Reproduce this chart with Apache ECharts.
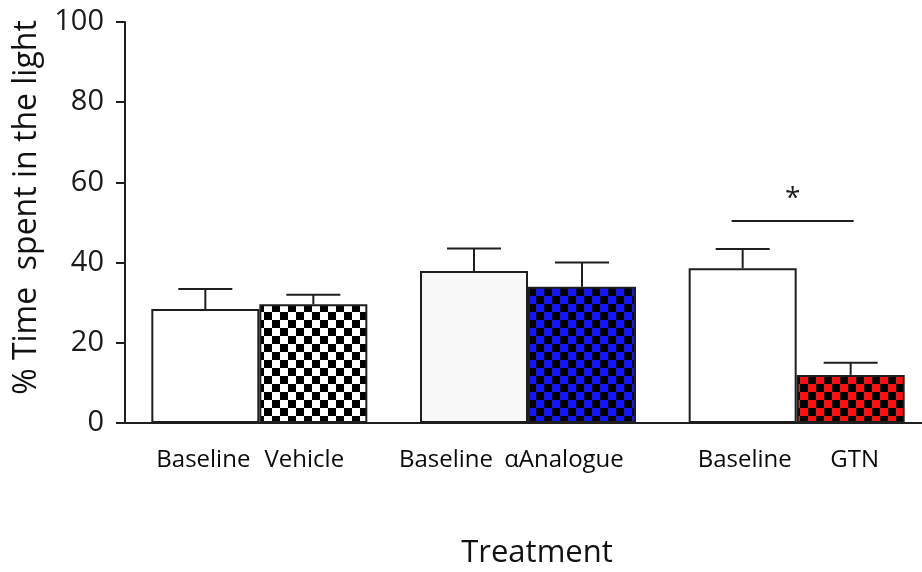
<!DOCTYPE html>
<html>
<head>
<meta charset="utf-8">
<script src="https://cdn.jsdelivr.net/npm/echarts@6/dist/echarts.min.js"></script>
<style>
  html, body { margin: 0; padding: 0; background: #fff; }
  #chart { width: 922px; height: 572px; }
</style>
</head>
<body>
<div id="chart"></div>
<script>
// groups: baseline + treatment pairs
const groups = ["Vehicle", "αAnalogue", "GTN"];
const baselineLabels = ["Baseline", "Baseline", "Baseline"];
const treatmentLabels = ["Vehicle", "αAnalogue", "GTN"];
const baselineMean = [28.4, 37.9, 38.6];
const baselineSem = [5.0, 5.6, 4.8];
const treatmentMean = [29.6, 34.0, 12.0];
const treatmentSem = [2.4, 6.0, 3.0];
const yTicks = [0, 20, 40, 60, 80, 100];

// significance annotation (GTN vs its baseline)
const sigGroup = 2;
const sigLevel = 50.4;
const sigText = "*";

const BAR_W = 108;
const INK = "#1e1e1e";
const FONT = "Open Sans";

// small label nudges to follow the original's placement
const baselineNudge = [-2, -28, 2];
const treatmentNudge = [-9, -18, 4];

function checker(bg) {
  const c = document.createElement("canvas");
  c.width = 16;
  c.height = 16;
  const ctx = c.getContext("2d");
  ctx.fillStyle = bg;
  ctx.fillRect(0, 0, 16, 16);
  ctx.fillStyle = "#000";
  ctx.fillRect(0, 0, 8, 8);
  ctx.fillRect(8, 8, 8, 8);
  return { image: c, repeat: "repeat" };
}
const treatmentFills = [checker("#ffffff"), checker("#1414ff"), checker("#ff1010")];

const chart = echarts.init(document.getElementById("chart"), null, { renderer: "canvas" });

const labelBase = {
  show: true,
  position: "bottom",
  distance: 25,
  fontFamily: FONT,
  fontSize: 24,
  color: "#0a0a0a",
};

const errData = [];
groups.forEach((g, i) => {
  errData.push([i, baselineMean[i], baselineSem[i], 0]);
  errData.push([i, treatmentMean[i], treatmentSem[i], 1]);
});

const option = {
  animation: false,
  backgroundColor: "#fff",
  grid: {
    left: 125, top: 22, width: 806, height: 401,
    containLabel: false, outerBoundsMode: "none",
  },
  xAxis: {
    type: "category",
    data: groups,
    name: "Treatment",
    nameLocation: "middle",
    nameGap: 115,
    nameTextStyle: { fontFamily: FONT, fontSize: 31, color: "#111", padding: [0, 0, 0, 18] },
    axisLine: { lineStyle: { color: INK, width: 2 } },
    axisTick: { show: false },
    axisLabel: { show: false },
    splitLine: { show: false },
  },
  yAxis: {
    type: "value",
    min: yTicks[0],
    max: yTicks[yTicks.length - 1],
    interval: yTicks[1] - yTicks[0],
    name: "% Time  spent in the light",
    nameLocation: "middle",
    nameGap: 72,
    nameTextStyle: { fontFamily: FONT, fontSize: 32, color: "#111", padding: [0, 0, 0, 30] },
    axisLine: { show: true, lineStyle: { color: INK, width: 2 } },
    axisTick: { show: true, length: 9, lineStyle: { color: INK, width: 2 } },
    axisLabel: { margin: 21, fontFamily: FONT, fontSize: 29, color: "#1a1a1a" },
    splitLine: { show: false },
  },
  series: [
    {
      name: "Baseline",
      type: "bar",
      barWidth: BAR_W,
      barGap: "0%",
      data: baselineMean.map((v, i) => ({
        value: v,
        itemStyle: { color: i === 1 ? "#f8f8f8" : "#ffffff" },
        label: { offset: [baselineNudge[i], 0] },
      })),
      itemStyle: { borderColor: INK, borderWidth: 2 },
      label: Object.assign({}, labelBase, {
        formatter: (p) => baselineLabels[p.dataIndex],
      }),
    },
    {
      name: "Treatment",
      type: "bar",
      barWidth: BAR_W,
      data: treatmentMean.map((v, i) => ({
        value: v,
        itemStyle: { color: treatmentFills[i] },
        label: { offset: [treatmentNudge[i], 0] },
      })),
      itemStyle: { borderColor: INK, borderWidth: 2 },
      label: Object.assign({}, labelBase, {
        formatter: (p) => treatmentLabels[p.dataIndex],
      }),
    },
    {
      // upper error bars
      type: "custom",
      z: 5,
      data: errData,
      renderItem: (params, api) => {
        const base = api.coord([api.value(0), api.value(1)]);
        const top = api.coord([api.value(0), api.value(1) + api.value(2)]);
        const x = base[0] + (api.value(3) ? BAR_W / 2 : -BAR_W / 2);
        const style = { stroke: INK, lineWidth: 2 };
        return {
          type: "group",
          children: [
            { type: "line", shape: { x1: x, y1: base[1], x2: x, y2: top[1] }, style },
            { type: "line", shape: { x1: x - 27, y1: top[1], x2: x + 27, y2: top[1] }, style },
          ],
        };
      },
    },
    {
      // significance bracket
      type: "custom",
      z: 5,
      data: [[sigGroup, sigLevel]],
      renderItem: (params, api) => {
        const p = api.coord([api.value(0), api.value(1)]);
        return {
          type: "group",
          children: [
            {
              type: "line",
              shape: { x1: p[0] - 65, y1: p[1], x2: p[0] + 57, y2: p[1] },
              style: { stroke: INK, lineWidth: 2 },
            },
            {
              type: "text",
              style: {
                x: p[0] - 4,
                y: p[1] - 22,
                text: sigText,
                fontFamily: FONT,
                fontSize: 28,
                fill: INK,
                textAlign: "center",
                textVerticalAlign: "middle",
              },
            },
          ],
        };
      },
    },
  ],
};

chart.setOption(option);
</script>
</body>
</html>
